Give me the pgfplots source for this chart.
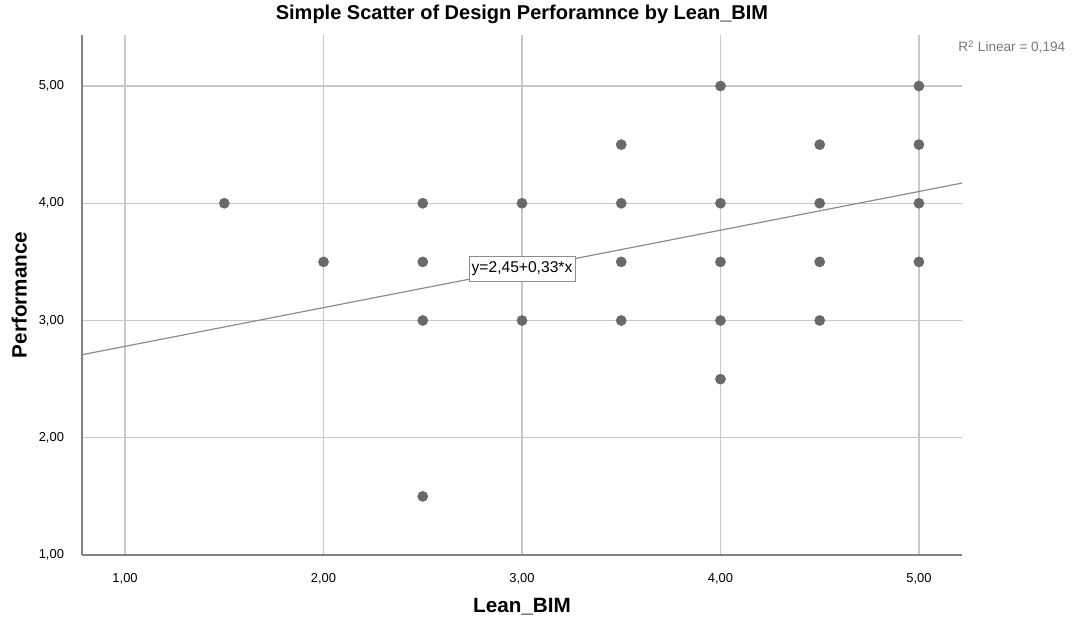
\documentclass[border=0pt]{standalone}
\usepackage{fontspec}
\setmainfont{Liberation Sans}
\usepackage{pgfplots}
\pgfplotsset{compat=1.18}
\definecolor{ptgray}{RGB}{105,105,105}
\definecolor{gridgray}{RGB}{200,200,200}
\definecolor{axgray}{RGB}{130,130,130}
\definecolor{fitgray}{RGB}{140,140,140}
\definecolor{txtgray}{RGB}{120,120,120}
\begin{document}
\begin{tikzpicture}[x=1pt,y=1pt]
\useasboundingbox (-61.5pt,-48pt) rectangle (744pt,416.25pt);
\begin{axis}[
  at={(0,0)}, anchor=south west,
  scale only axis, width=660pt, height=390pt,
  xmin=0.783, xmax=5.217, ymin=1, ymax=5.435,
  xtick={1,2,3,4,5}, ytick={1,2,3,4,5},
  grid=major,
  major grid style={gridgray, line width=0.9pt},
  axis x line*=bottom, axis y line*=left,
  axis line style={axgray, line width=1.1pt, -},
  tick style={draw=none},
  major tick length=0pt,
  /pgf/number format/.cd, use comma, fixed, fixed zerofill, precision=2, assume math mode=true,
  /pgfplots/.cd,
  ticklabel style={font=\fontsize{9.7}{11}\selectfont, text=black},
  xticklabel style={yshift=-10pt},
  yticklabel style={xshift=-10pt},
  clip=false,
]
\addplot[fitgray, line width=0.9pt] coordinates {(0.783,2.708) (5.217,4.172)};
\addplot[only marks, mark=*, mark size=3.8pt, mark options={fill=ptgray, draw=ptgray}] coordinates {
(1.5,4) (2,3.5) (2.5,4) (2.5,3.5) (2.5,3) (2.5,1.5)
(3,4) (3,3)
(3.5,4.5) (3.5,4) (3.5,3.5) (3.5,3)
(4,5) (4,4) (4,3.5) (4,3) (4,2.5)
(4.5,4.5) (4.5,4) (4.5,3.5) (4.5,3)
(5,5) (5,4.5) (5,4) (5,3.5)
};
\node[draw=fitgray, fill=white, inner xsep=2pt, inner ysep=4pt, font=\fontsize{11.7}{13}\selectfont] at (axis cs:3.0,3.44) {y=2,45+0,33*x};
\node[font=\bfseries\fontsize{15}{17}\selectfont, anchor=base] at (rel axis cs:0.5,1) [yshift=12pt] {Simple Scatter of Design Perforamnce by Lean\_BIM};
\node[font=\fontsize{10.2}{12}\selectfont, text=txtgray, anchor=east] at (rel axis cs:1,1) [xshift=81pt, yshift=-9pt] {R\textsuperscript{2} Linear = 0,194};
\end{axis}
\node[font=\bfseries\fontsize{15.5}{17}\selectfont] at (330pt,-39pt) {Lean\_BIM};
\node[font=\bfseries\fontsize{15.5}{17}\selectfont, rotate=90] at (-47pt,195pt) {Performance};
\end{tikzpicture}
\end{document}
